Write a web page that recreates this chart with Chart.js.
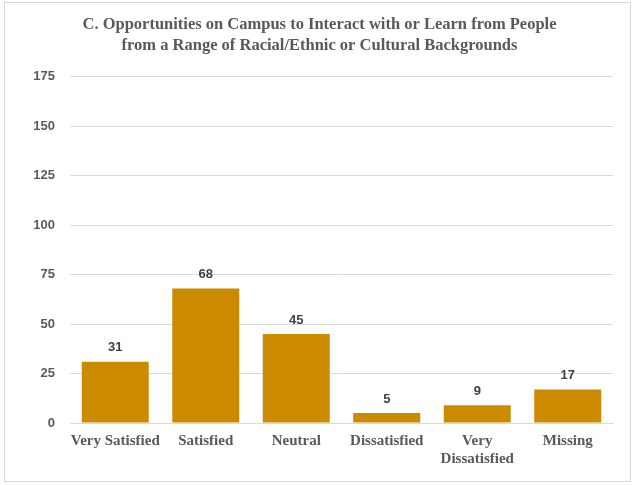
<!DOCTYPE html>
<html>
<head>
<meta charset="utf-8">
<script src="https://cdn.jsdelivr.net/npm/chart.js@4"></script>
<style>
  body { margin: 0; background: #fff; }
  #wrap { position: relative; width: 637px; height: 485px; }
  #frame { position: absolute; left: 4px; top: 2px; width: 627px; height: 480px; border: 1px solid #d9d9d9; box-sizing: border-box; pointer-events: none; }
</style>
</head>
<body>
<div id="wrap">
  <canvas id="chart" width="637" height="485"></canvas>
  <div id="frame"></div>
</div>
<script>
var categories = ['Very Satisfied', 'Satisfied', 'Neutral', 'Dissatisfied', ['Very', 'Dissatisfied'], 'Missing'];
var counts = [31, 68, 45, 5, 9, 17];
var yTicks = [0, 25, 50, 75, 100, 125, 150, 175];
var titleLines = ['C. Opportunities on Campus to Interact with or Learn from People', 'from a Range of Racial/Ethnic or Cultural Backgrounds'];

// numbers above the bars
var barLabels = {
  id: 'barLabels',
  afterDatasetsDraw: function(chart) {
    var ctx = chart.ctx;
    var meta = chart.getDatasetMeta(0);
    ctx.save();
    ctx.font = 'bold 13px "Liberation Sans", Arial, sans-serif';
    ctx.fillStyle = '#404040';
    ctx.textAlign = 'center';
    ctx.textBaseline = 'middle';
    meta.data.forEach(function(bar, i) {
      ctx.fillText(String(counts[i]), bar.x, bar.y - 14);
    });
    ctx.restore();
  }
};

var ctx = document.getElementById('chart');
var myChart = new Chart(ctx, {
  type: 'bar',
  data: {
    labels: categories,
    datasets: [{
      data: counts,
      backgroundColor: '#CC8A00',
      borderWidth: 0,
      barPercentage: 0.74,
      categoryPercentage: 1
    }]
  },
  options: {
    responsive: false,
    animation: false,
    layout: { padding: { left: 26, right: 24, top: 0, bottom: 0 } },
    plugins: {
      legend: { display: false },
      tooltip: { enabled: false },
      title: {
        display: true,
        text: titleLines,
        color: '#595959',
        font: { family: '"Liberation Serif", "Times New Roman", serif', size: 16.5, weight: 'bold', lineHeight: 1.24 },
        padding: { top: 15, bottom: 21 }
      }
    },
    scales: {
      y: {
        min: 0,
        max: 175,
        afterBuildTicks: function(scale) {
          scale.ticks = yTicks.map(function(v) { return { value: v }; });
        },
        afterFit: function(scale) { scale.width = 44; },
        border: { display: false },
        grid: { color: '#d9d9d9', drawTicks: false },
        ticks: {
          padding: 15,
          color: '#595959',
          font: { family: '"Liberation Sans", Arial, sans-serif', size: 13, weight: 'bold' }
        }
      },
      x: {
        afterFit: function(scale) { scale.height = 62; },
        border: { display: true, color: '#d9d9d9' },
        grid: { display: false, drawTicks: false },
        ticks: {
          padding: 9,
          color: '#595959',
          maxRotation: 0,
          autoSkip: false,
          font: { family: '"Liberation Serif", "Times New Roman", serif', size: 15, weight: 'bold', lineHeight: 1.2 }
        }
      }
    }
  },
  plugins: [barLabels]
});
</script>
</body>
</html>
